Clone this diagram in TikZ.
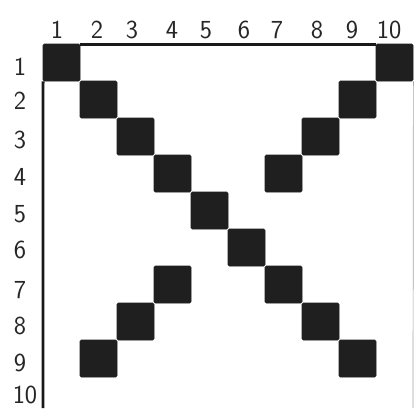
\documentclass[tikz,border=0pt]{standalone}
\begin{document}
\begin{tikzpicture}[x=1pt,y=-1pt,
  cellbox/.style={rectangle,fill=black!88,draw=black!88,line width=0.8pt,rounded corners=1.5pt,minimum size=37pt,inner sep=0pt},
  numlabel/.style={inner sep=0pt,text=black!85,font=\sffamily\fontsize{26}{26}\selectfont},
  border/.style={draw=black!90,line width=2.8pt},
  faint/.style={draw=black!35,line width=0.7pt}]
\useasboundingbox (0,0) rectangle (415,408);
\fill[white] (0,0) rectangle (415,408);
% black cells (row, column)
\foreach \r/\c in {1/1,1/10,2/2,2/9,3/3,3/8,4/4,4/7,5/5,6/6,7/4,7/7,8/3,8/8,9/2,9/9}{
  \node[cellbox] (s\r-\c) at ({61.5+37*(\c-1)},{62.5+37*(\r-1)}) {};
}
% column labels
\foreach \c/\x in {1/57,2/97,3/132,4/172,5/206,6/244,7/277,8/317,9/352,10/389}{
  \node[numlabel] (col\c) at (\x,30) {\c};
}
% row labels
\foreach \r/\y in {1/67,2/101,3/140,4/177,5/214,6/250,7/290,8/326,9/363}{
  \node[numlabel] (row\r) at (20,\y) {\r};
}
\node[numlabel] (row10) at (25,395) {10};
% frame
\coordinate (lb) at (43,408);
\coordinate (rb) at (413,408);
\draw[border] ([yshift=-1pt]s1-1.north east) -- ([yshift=-1pt]s1-10.north west);
\draw[border] ([xshift=0.5pt]s1-1.south west) -- (lb);
\draw[faint] (s1-10.south east) -- (rb);
\end{tikzpicture}
\end{document}
